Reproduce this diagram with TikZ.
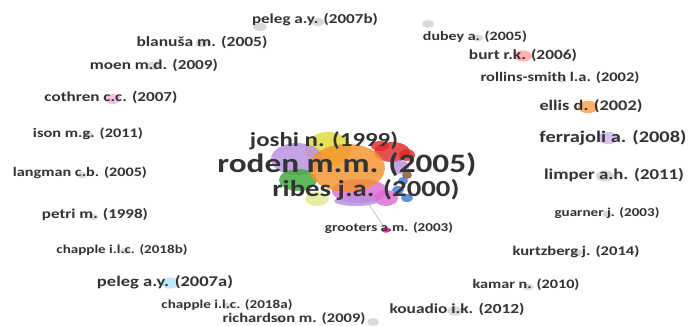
\documentclass[tikz,border=0pt]{standalone}
\usepackage{fontspec}
\setmainfont{Carlito}
\usepackage{graphicx}
\usetikzlibrary{shapes.geometric}
\newcommand{\fitw}[2]{\scalebox{1}[0.8]{\resizebox{#1pt}{!}{#2}}}
\definecolor{cyel}{HTML}{E2DA3A}
\definecolor{clav}{HTML}{B88FE0}
\definecolor{cgrn}{HTML}{3DAA3A}
\definecolor{cora}{HTML}{F5922A}
\definecolor{cred}{HTML}{E02A2A}
\definecolor{cblu}{HTML}{3A78D6}
\definecolor{cpnk}{HTML}{DC6CD4}
\definecolor{cpal}{HTML}{E2EA90}
\definecolor{ctxt}{HTML}{333333}
\tikzset{
  lbl/.style={inner sep=0pt, text=ctxt, font=\bfseries},
  dot/.style={ellipse, inner sep=0pt, minimum width=#1pt, minimum height=0.62*#1pt, fill=gray!30},
  blob/.style n args={2}{ellipse, inner sep=0pt, minimum width=2*#1pt, minimum height=2*#2pt, fill opacity=0.82, draw=none},
  link/.style={draw=gray!60, line width=0.6pt},
}
\begin{document}
\begin{tikzpicture}[x=1pt,y=-1pt]
\useasboundingbox (0,0) rectangle (699,326);
\fill[white] (0,0) rectangle (699,326);
% central cluster
\node[blob={23}{17}, fill=cyel] (cy) at (328,149) {};
\node[blob={26}{16}, fill=clav] (cl) at (297,159) {};
\node[blob={12}{7}, fill=cpal] (cp) at (317,199) {};
\node[blob={19}{11}, fill=cgrn] (cg) at (298,180) {};
\node[blob={18}{10}, fill=cred] (cr1) at (392,152) {};
\node[blob={8}{6}, fill=cred] (cr2) at (407,155) {};
\node[blob={9}{5}, fill=cred] (cr3) at (380,146) {};
\node[blob={9}{7}, fill=clav] (cv) at (400,167) {};
\node[blob={5}{4}, fill=brown!70!black] (cbr) at (407,175) {};
\node[blob={5}{4}, fill=cblu] (cb1) at (403,181) {};
\node[blob={6}{4}, fill=cblu] (cb2) at (398,190) {};
\node[blob={6}{4}, fill=cblu] (cb3) at (407,198) {};
\node[blob={28}{12}, fill=cpnk] (ck1) at (360,191) {};
\node[blob={12}{8}, fill=cpnk] (ck2) at (386,198) {};
\node[blob={38}{24}, fill=cora] (co) at (347,168) {};
\node[blob={22}{5}, fill=clav] (ck3) at (356,201) {};
% peripheral dots
\node[dot=13] (dpb) at (318,22) {};
\node[dot=13] (dpbx) at (260,27) {};
\node[dot=11] (ddu) at (478,38) {};
\node[dot=12] (ddux) at (428,24) {};
\node[dot=18, fill=red!30] (dbu) at (523,56) {};
\node[dot=9] (dro) at (562,80) {};
\node[dot=20, fill=orange!60] (del) at (588,107) {};
\node[dot=20, fill=clav!55] (dfe) at (608,138) {};
\node[dot=18] (dli) at (605,176) {};
\node[dot=10] (dgu) at (607,214) {};
\node[dot=11] (dku) at (577,253) {};
\node[dot=11] (dka) at (528,287) {};
\node[dot=15] (dko) at (455,311) {};
\node[dot=10] (dri) at (280,320) {};
\node[dot=12] (drix) at (373,322) {};
\node[dot=10] (dca) at (227,306) {};
\node[dot=18, fill=cyan!25] (dpa) at (170,283) {};
\node[dot=10] (dcb) at (125,251) {};
\node[dot=10] (dpe) at (93,217) {};
\node[dot=10] (dla) at (82,175) {};
\node[dot=11] (dis) at (88,135) {};
\node[dot=16, fill=magenta!25] (dco) at (113,99) {};
\node[dot=13] (dmo) at (153,66) {};
\node[dot=13] (dbl) at (202,43) {};
\node[dot=9, fill=magenta!80] (dgr) at (386,230) {};
\draw[link] (ck1) -- (dgr);
% labels
\node[lbl] (lpb) at (315,20) {\fitw{126}{peleg a.y. (2007b)}};
\node[lbl] (ldu) at (475,37) {\fitw{104}{dubey a. (2005)}};
\node[lbl] (lbu) at (523,55) {\fitw{108}{burt r.k. (2006)}};
\node[lbl] (lro) at (560,78) {\fitw{159}{rollins-smith l.a. (2002)}};
\node[lbl] (lel) at (591,106) {\fitw{103}{ellis d. (2002)}};
\node[lbl] (lfe) at (613,138) {\fitw{147}{ferrajoli a. (2008)}};
\node[lbl] (lli) at (614,175) {\fitw{140}{limper a.h. (2011)}};
\node[lbl] (lgu) at (607,213) {\fitw{105}{guarner j. (2003)}};
\node[lbl] (lku) at (576,252) {\fitw{127}{kurtzberg j. (2014)}};
\node[lbl] (lka) at (526,285) {\fitw{107}{kamar n. (2010)}};
\node[lbl] (lko) at (457,309) {\fitw{135}{kouadio i.k. (2012)}};
\node[lbl] (lri) at (294,319) {\fitw{143}{richardson m. (2009)}};
\node[lbl] (lca) at (227,305) {\fitw{131}{chapple i.l.c. (2018a)}};
\node[lbl] (lpa) at (165,282) {\fitw{136}{peleg a.y. (2007a)}};
\node[lbl] (lcb) at (122,250) {\fitw{131}{chapple i.l.c. (2018b)}};
\node[lbl] (lpe) at (95,215) {\fitw{106}{petri m. (1998)}};
\node[lbl] (lla) at (80,173) {\fitw{134}{langman c.b. (2005)}};
\node[lbl] (lis) at (88,134) {\fitw{110}{ison m.g. (2011)}};
\node[lbl] (lco) at (111,97) {\fitw{133}{cothren c.c. (2007)}};
\node[lbl] (lmo) at (154,65) {\fitw{128}{moen m.d. (2009)}};
\node[lbl] (lbl) at (202,42) {\fitw{131}{blanuša m. (2005)}};
\node[lbl] (ljo) at (324,141) {\fitw{148}{joshi n. (1999)}};
\node[lbl] (lrd) at (347,165) {\fitw{259}{roden m.m. (2005)}};
\node[lbl] (lrb) at (366,190) {\fitw{187}{ribes j.a. (2000)}};
\node[lbl] (lgr) at (389,228) {\fitw{128}{grooters a.m. (2003)}};
\end{tikzpicture}
\end{document}
